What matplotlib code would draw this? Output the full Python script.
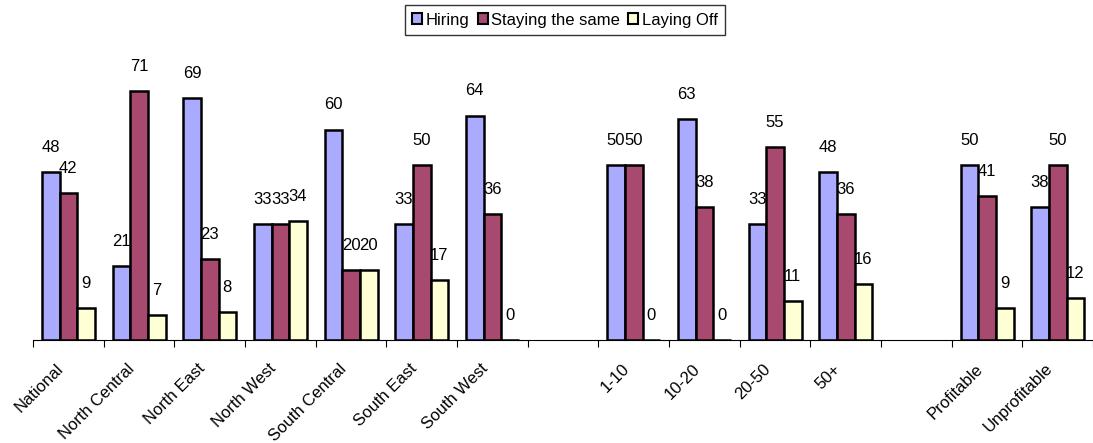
import numpy as np
import matplotlib.pyplot as plt
import matplotlib.transforms as mtransforms

plt.rcParams['font.family'] = ['Liberation Sans', 'DejaVu Sans']

# Survey results, percent of respondents (blank slots separate the groups)
categories = ['National', 'North Central', 'North East', 'North West', 'South Central',
              'South East', 'South West', '', '1-10', '10-20', '20-50', '50+', '',
              'Profitable', 'Unprofitable']
hiring = [48, 21, 69, 33, 60, 33, 64, None, 50, 63, 33, 48, None, 50, 38]
staying = [42, 71, 23, 33, 20, 50, 36, None, 50, 38, 55, 36, None, 41, 50]
laying_off = [9, 7, 8, 34, 20, 17, 0, None, 0, 0, 11, 16, None, 9, 12]

series = [('Hiring', hiring, '#AAAAFF'),
          ('Staying the same', staying, '#A8496F'),
          ('Laying Off', laying_off, '#FFFFD5')]

fig = plt.figure(figsize=(10.93, 4.43), dpi=100)
ax = fig.add_axes([33 / 1093, 103 / 443, 1060 / 1093, 280.6 / 443])

x = np.arange(len(categories))
w = 0.25
for i, (name, vals, col) in enumerate(series):
    xs = [x[j] + (i - 1) * w for j in range(len(vals)) if vals[j] is not None]
    vs = [v for v in vals if v is not None]
    ax.bar(xs, vs, width=w, color=col, edgecolor='black', linewidth=1.8, label=name)
    for xx, v in zip(xs, vs):
        ax.text(xx, v + 7, str(v), ha='center', va='center', fontsize=12, clip_on=False)

ax.set_xlim(-0.5, len(categories) - 0.5)
ax.set_ylim(0, 80)

for side in ['top', 'right', 'left']:
    ax.spines[side].set_visible(False)
ax.spines['bottom'].set_linewidth(0.8)
ax.set_yticks([])

ax.set_xticks(x)
ax.set_xticklabels(categories, rotation=45, ha='right', va='center',
                   rotation_mode='anchor', fontsize=12)
ax.tick_params(axis='x', which='major', length=0, pad=19)
ax.set_xticks(np.arange(-0.5, len(categories), 1), minor=True)
ax.tick_params(axis='x', which='minor', length=5, width=0.8, direction='out')

# nudge the slanted labels a little to the left
shift = mtransforms.ScaledTranslation(-0.07, 0, fig.dpi_scale_trans)
for lbl in ax.get_xticklabels():
    lbl.set_transform(lbl.get_transform() + shift)

leg = fig.legend(loc='upper center', bbox_to_anchor=(565 / 1093, 1 - 5 / 443), ncol=3,
                 fontsize=12, frameon=True, fancybox=False, edgecolor='black',
                 handlelength=0.6, handleheight=0.6, handletextpad=0.2,
                 columnspacing=0.5, borderpad=0.45, borderaxespad=0)
leg.get_frame().set_linewidth(1.0)
for h in leg.legend_handles:
    h.set_linewidth(1.5)

fig.savefig('out.png', dpi=100)
